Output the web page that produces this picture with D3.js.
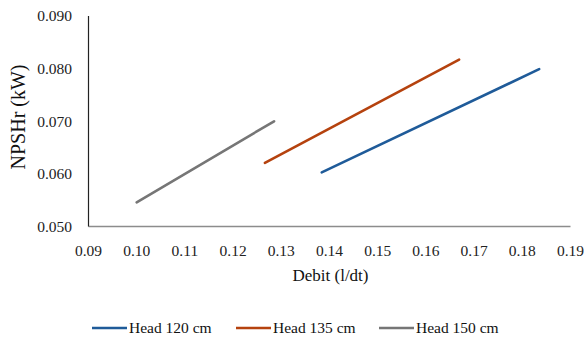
<!DOCTYPE html>
<html>
<head>
<meta charset="utf-8">
<script src="https://cdn.jsdelivr.net/npm/d3@7"></script>
<style>
  html, body { margin: 0; padding: 0; background: #fff; }
  svg { display: block; }
</style>
</head>
<body>
<div id="chart"></div>
<script>
// Series: flow rate (l/dt) vs NPSHr (kW)
const seriesNames = ["Head 120 cm", "Head 135 cm", "Head 150 cm"];
const seriesColors = ["#1f5b99", "#b5420e", "#767676"];
const debit120 = [0.1385, 0.1836];
const npshr120 = [0.0602, 0.0798];
const debit135 = [0.1267, 0.1670];
const npshr135 = [0.0620, 0.0816];
const debit150 = [0.1001, 0.1286];
const npshr150 = [0.0545, 0.0699];
const xTicks = [0.09, 0.10, 0.11, 0.12, 0.13, 0.14, 0.15, 0.16, 0.17, 0.18, 0.19];
const yTicks = [0.050, 0.060, 0.070, 0.080, 0.090];

const FONT = "'Liberation Serif', 'Times New Roman', serif";
const W = 585, H = 339;

const svg = d3.select("#chart").append("svg")
  .attr("width", W).attr("height", H);

const x = d3.scaleLinear().domain([0.09, 0.19]).range([88, 570]);
const y = d3.scaleLinear().domain([0.050, 0.090]).range([226, 15.5]);

// Axes (no tick marks, labels only)
const xAxis = d3.axisBottom(x).tickValues(xTicks).tickSize(0).tickPadding(0)
  .tickFormat(d3.format(".2f"));
const yAxis = d3.axisLeft(y).tickValues(yTicks).tickSize(0).tickPadding(0)
  .tickFormat(d3.format(".3f"));

const gx = svg.append("g").attr("transform", `translate(0,${y(0.050)})`).call(xAxis);
gx.select(".domain").attr("stroke", "#8c8c8c").attr("stroke-width", 1.3);
gx.selectAll("text").attr("dy", null).attr("y", 30)
  .style("font-family", FONT).style("font-size", "15.5px").attr("fill", "#222");

const gy = svg.append("g").attr("transform", `translate(${x(0.09)},0)`).call(yAxis);
gy.select(".domain").attr("stroke", "#222").attr("stroke-width", 1.2);
gy.selectAll("text").attr("x", -16).attr("dy", "0.35em")
  .style("font-family", FONT).style("font-size", "15.5px").attr("fill", "#222");

// Axis titles
svg.append("text")
  .attr("x", 330.5).attr("y", 281)
  .attr("text-anchor", "middle")
  .style("font-family", FONT).style("font-size", "17px").attr("fill", "#111")
  .text("Debit (l/dt)");

svg.append("text")
  .attr("transform", "translate(25,117) rotate(-90)")
  .attr("text-anchor", "middle")
  .style("font-family", FONT).style("font-size", "20px").attr("fill", "#111")
  .text("NPSHr (kW)");

// Lines
const data = [
  debit120.map((d, i) => ({ x: d, y: npshr120[i] })),
  debit135.map((d, i) => ({ x: d, y: npshr135[i] })),
  debit150.map((d, i) => ({ x: d, y: npshr150[i] }))
];
const line = d3.line().x(d => x(d.x)).y(d => y(d.y));
svg.append("g").selectAll("path").data(data).join("path")
  .attr("d", line)
  .attr("fill", "none")
  .attr("stroke", (d, i) => seriesColors[i])
  .attr("stroke-width", 2.6)
  .attr("stroke-linecap", "round");

// Legend
const legendX = [92, 236, 379];
const lg = svg.append("g").selectAll("g").data(seriesNames).join("g")
  .attr("transform", (d, i) => `translate(${legendX[i]},328)`);
lg.append("line").attr("x1", 0).attr("x2", 35).attr("y1", 0).attr("y2", 0)
  .attr("stroke", (d, i) => seriesColors[i]).attr("stroke-width", 2.6);
lg.append("text").attr("x", 37).attr("y", 0).attr("dy", "0.35em")
  .style("font-family", FONT).style("font-size", "15.5px").attr("fill", "#111")
  .text(d => d);
</script>
</body>
</html>
